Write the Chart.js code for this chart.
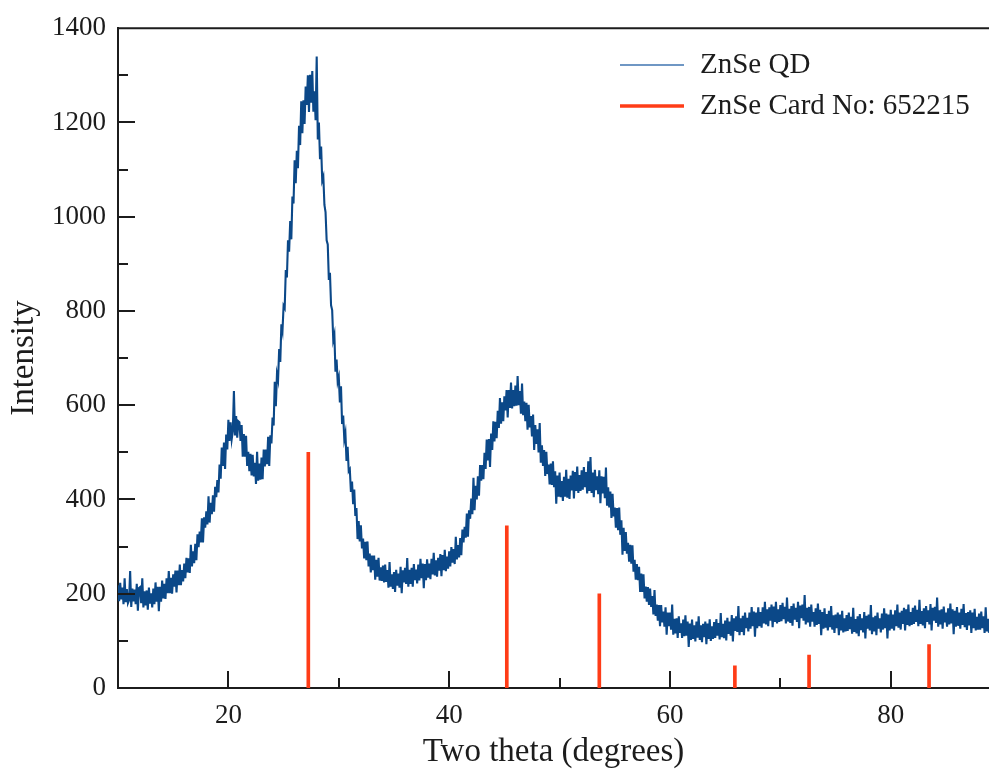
<!DOCTYPE html>
<html>
<head>
<meta charset="utf-8">
<title>ZnSe QD XRD</title>
<script src="https://cdn.jsdelivr.net/npm/chart.js@4.4.1/dist/chart.umd.min.js"></script>
<style>
  html, body { margin: 0; padding: 0; background: #fff; }
  canvas { display: block; }
</style>
</head>
<body>
<canvas id="xrd" width="989" height="773"></canvas>
<script>
// diffractogram: 2θ from 10° in 0.1° steps, one row per degree
const thetaStart = 10;
const thetaStep = 0.1;
const qdIntensity = [
  218, 184, 223, 188, 213, 178, 233, 182, 210, 180,
  186, 248, 172, 211, 184, 209, 178, 221, 164, 212,
  214, 180, 233, 171, 205, 175, 207, 166, 213, 179,
  201, 171, 211, 178, 224, 183, 215, 163, 215, 183,
  228, 190, 221, 189, 233, 201, 248, 201, 234, 200,
  241, 215, 249, 203, 249, 218, 262, 218, 250, 226,
  264, 233, 276, 245, 275, 244, 304, 258, 290, 265,
  306, 271, 326, 299, 332, 309, 360, 309, 362, 340,
  375, 347, 407, 351, 393, 369, 409, 374, 427, 405,
  441, 415, 474, 444, 510, 471, 521, 465, 538, 506,
  569, 524, 564, 528, 545, 630, 536, 577, 531, 566,
  564, 524, 558, 491, 539, 491, 535, 471, 501, 460,
  497, 451, 495, 449, 478, 433, 501, 440, 476, 442,
  489, 443, 506, 470, 506, 475, 533, 471, 536, 519,
  574, 557, 650, 598, 666, 654, 719, 692, 772, 758,
  811, 806, 887, 871, 950, 926, 991, 952, 1043, 1028,
  1120, 1071, 1140, 1103, 1193, 1152, 1245, 1177, 1247, 1197,
  1276, 1237, 1300, 1222, 1301, 1242, 1309, 1223, 1266, 1205,
  1340, 1164, 1200, 1122, 1149, 1077, 1085, 1025, 1010, 950,
  941, 866, 881, 812, 802, 739, 750, 671, 697, 650,
  660, 606, 640, 560, 578, 528, 541, 482, 512, 460,
  464, 416, 438, 390, 421, 365, 382, 316, 354, 311,
  345, 296, 317, 275, 310, 271, 311, 258, 285, 245,
  281, 250, 281, 230, 272, 236, 276, 228, 256, 227,
  260, 224, 262, 225, 250, 213, 267, 215, 241, 210,
  246, 204, 251, 217, 243, 213, 257, 201, 250, 224,
  255, 221, 276, 215, 251, 221, 255, 215, 263, 229,
  251, 222, 262, 228, 274, 233, 264, 212, 263, 229,
  273, 234, 264, 231, 274, 241, 287, 239, 271, 236,
  276, 249, 284, 237, 282, 250, 293, 248, 279, 253,
  290, 258, 299, 266, 295, 263, 321, 273, 303, 277,
  318, 282, 336, 309, 342, 319, 370, 321, 377, 359,
  402, 369, 446, 377, 429, 400, 449, 408, 473, 440,
  473, 443, 499, 465, 527, 483, 528, 469, 540, 505,
  566, 523, 565, 530, 588, 552, 615, 561, 606, 566,
  619, 589, 632, 574, 632, 594, 648, 593, 632, 598,
  642, 599, 662, 600, 630, 582, 646, 579, 608, 566,
  605, 548, 601, 553, 577, 534, 580, 505, 558, 518,
  549, 500, 562, 478, 515, 471, 505, 450, 501, 454,
  474, 432, 476, 431, 481, 426, 460, 391, 451, 406,
  457, 405, 439, 397, 448, 406, 463, 404, 444, 401,
  451, 419, 461, 402, 458, 418, 470, 414, 452, 418,
  462, 421, 469, 426, 458, 413, 481, 418, 490, 414,
  457, 405, 463, 420, 449, 411, 462, 392, 449, 413,
  448, 403, 468, 387, 426, 383, 417, 361, 412, 364,
  383, 340, 382, 335, 383, 325, 356, 283, 340, 291,
  331, 285, 308, 268, 304, 264, 303, 247, 272, 230,
  263, 229, 257, 204, 243, 204, 241, 190, 215, 183,
  214, 176, 211, 172, 195, 156, 208, 153, 177, 143,
  176, 131, 176, 139, 162, 130, 171, 113, 160, 131,
  160, 124, 177, 113, 147, 116, 148, 106, 152, 117,
  137, 106, 145, 110, 154, 111, 141, 87, 137, 102,
  145, 104, 133, 99, 141, 107, 152, 102, 133, 97,
  136, 108, 141, 93, 137, 104, 146, 100, 131, 104,
  140, 106, 146, 111, 138, 103, 159, 108, 136, 106,
  143, 101, 149, 115, 141, 111, 155, 99, 148, 121,
  152, 119, 174, 112, 148, 119, 153, 112, 160, 127,
  149, 120, 160, 126, 172, 131, 162, 109, 160, 127,
  171, 131, 161, 128, 171, 137, 183, 135, 167, 131,
  171, 143, 177, 129, 173, 140, 183, 137, 167, 140,
  176, 142, 181, 146, 172, 137, 192, 141, 168, 138,
  174, 132, 179, 145, 170, 140, 183, 127, 175, 148,
  177, 143, 197, 135, 170, 139, 172, 130, 177, 141,
  161, 130, 169, 134, 179, 136, 166, 112, 161, 126,
  169, 128, 157, 122, 164, 129, 174, 124, 154, 117,
  156, 127, 160, 112, 156, 122, 164, 118, 148, 120,
  155, 121, 160, 125, 151, 115, 170, 119, 146, 116,
  152, 110, 157, 123, 148, 118, 161, 105, 153, 126,
  156, 122, 176, 114, 150, 120, 153, 112, 160, 126,
  148, 118, 158, 124, 169, 127, 158, 105, 156, 122,
  166, 126, 156, 122, 165, 131, 177, 128, 160, 124,
  164, 136, 170, 122, 167, 134, 177, 131, 161, 134,
  170, 136, 175, 140, 166, 131, 187, 136, 163, 133,
  169, 127, 174, 140, 165, 135, 178, 122, 170, 143,
  172, 138, 192, 130, 165, 135, 167, 126, 173, 139,
  160, 130, 169, 135, 179, 137, 167, 114, 164, 130,
  172, 132, 160, 126, 168, 134, 178, 129, 159, 123,
  161, 133, 165, 117, 160, 127, 168, 122, 151, 124,
  158, 124, 162, 127, 152, 117, 171, 120, 147, 117,
  118
];

// reference card reflections
const cardTheta = [27.24, 45.22, 53.6, 65.88, 72.6, 83.47];
const cardIntensity = [500, 344, 200, 47, 70, 92];

const seriesNames = ['ZnSe QD', 'ZnSe Card No: 652215'];

const xMajor = [20, 40, 60, 80];
const xMinor = [30, 50, 70];
const yMajor = [0, 200, 400, 600, 800, 1000, 1200, 1400];
const yMinor = [100, 300, 500, 700, 900, 1100, 1300];

const serif = 'Liberation Serif';
const ink = '#1c1c1c';

const qdPoints = qdIntensity.map((v, i) => ({ x: thetaStart + i * thetaStep, y: v }));
const cardPoints = cardTheta.map((t, i) => ({ x: t, y: cardIntensity[i] }));

// inward tick marks + top frame line
const frameTicks = {
  id: 'frameTicks',
  afterDraw(chart) {
    const { ctx, chartArea: a, scales: { x, y } } = chart;
    ctx.save();
    ctx.strokeStyle = ink;
    ctx.lineWidth = 2;
    ctx.beginPath();
    ctx.moveTo(a.left - 1, a.top);
    ctx.lineTo(a.right, a.top);
    const xt = (vals, len) => vals.forEach(v => {
      const p = Math.round(x.getPixelForValue(v));
      ctx.moveTo(p, a.bottom);
      ctx.lineTo(p, a.bottom - len);
    });
    const yt = (vals, len) => vals.forEach(v => {
      const p = Math.round(y.getPixelForValue(v));
      ctx.moveTo(a.left, p);
      ctx.lineTo(a.left + len, p);
    });
    xt(xMajor, 17);
    xt(xMinor, 10);
    yt(yMajor.filter(v => v > 0 && v < 1400), 17);
    yt(yMinor, 10);
    ctx.stroke();
    ctx.restore();
  }
};

// legend in the upper right corner
const cornerLegend = {
  id: 'cornerLegend',
  afterDraw(chart) {
    const ctx = chart.ctx;
    ctx.save();
    ctx.font = '29px "' + serif + '"';
    ctx.textBaseline = 'middle';
    ctx.fillStyle = ink;
    chart.data.datasets.forEach((ds, i) => {
      const yy = 65 + i * 41;
      ctx.beginPath();
      ctx.strokeStyle = ds.type === 'bar' ? ds.backgroundColor : '#3f74b0';
      ctx.lineWidth = ds.type === 'bar' ? 3.5 : 1.3;
      ctx.moveTo(620, yy);
      ctx.lineTo(684, yy);
      ctx.stroke();
      ctx.fillText(ds.label, 700, yy);
    });
    ctx.restore();
  }
};

const axisFont = { family: serif, size: 27 };
const titleFont = { family: serif, size: 33 };

new Chart(document.getElementById('xrd'), {
  type: 'line',
  data: {
    datasets: [
      {
        type: 'line',
        label: seriesNames[0],
        data: qdPoints,
        borderColor: '#0b4888',
        borderWidth: 2.1,
        pointRadius: 0,
        tension: 0,
        order: 0
      },
      {
        type: 'bar',
        label: seriesNames[1],
        data: cardPoints,
        backgroundColor: '#ff3c17',
        barThickness: 3,
        order: 1
      }
    ]
  },
  options: {
    responsive: false,
    animation: false,
    layout: { padding: { top: 25, right: 0, left: 0, bottom: 0 } },
    plugins: {
      legend: { display: false },
      tooltip: { enabled: false }
    },
    scales: {
      x: {
        type: 'linear',
        min: 10,
        max: 88.9,
        offset: false,
        grid: { display: false, drawTicks: false },
        border: { display: true, color: ink, width: 2 },
        ticks: { font: axisFont, color: ink, padding: 12, maxRotation: 0, autoSkip: false, callback: v => String(v) },
        afterBuildTicks: s => { s.ticks = xMajor.map(v => ({ value: v })); },
        afterFit: s => { s.height = 85; },
        title: {
          display: true,
          text: 'Two theta (degrees)',
          font: titleFont,
          color: ink,
          padding: { top: 0, bottom: 1 }
        }
      },
      y: {
        type: 'linear',
        min: 0,
        max: 1400,
        grid: { display: false, drawTicks: false },
        border: { display: true, color: ink, width: 2 },
        ticks: { font: axisFont, color: ink, padding: 12, autoSkip: false, callback: v => String(v) },
        afterBuildTicks: s => { s.ticks = yMajor.map(v => ({ value: v })); },
        afterFit: s => { s.width = 118; },
        title: {
          display: true,
          text: 'Intensity',
          font: titleFont,
          color: ink,
          padding: { top: 5, bottom: 0 }
        }
      }
    }
  },
  plugins: [frameTicks, cornerLegend]
});
</script>
</body>
</html>
